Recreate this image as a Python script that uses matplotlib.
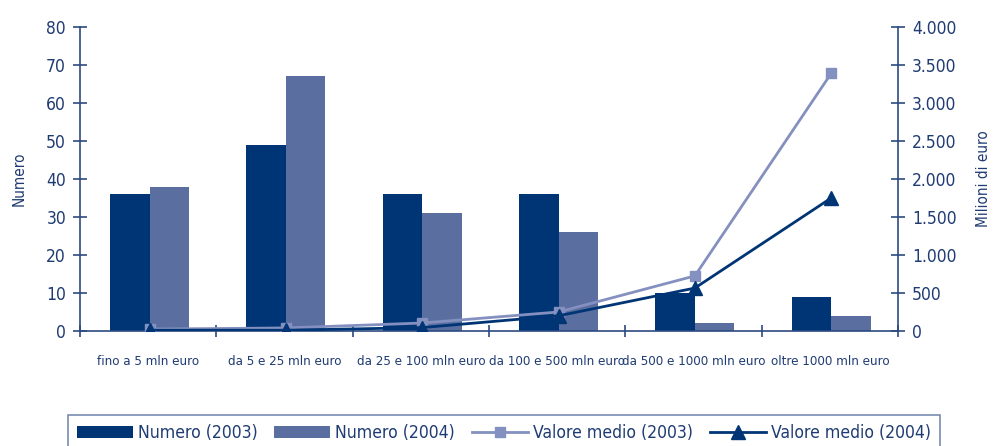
import matplotlib
matplotlib.use("Agg")
import matplotlib.pyplot as plt
import numpy as np
from matplotlib import font_manager

categories = ["fino a 5 mln euro", "da 5 e 25 mln euro", "da 25 e 100 mln euro",
              "da 100 e 500 mln euro", "da 500 e 1000 mln euro", "oltre 1000 mln euro"]
numero_2003 = [36, 49, 36, 36, 10, 9]
numero_2004 = [38, 67, 31, 26, 2, 4]
valore_2003 = [25, 40, 105, 250, 725, 3390]
valore_2004 = [10, 10, 45, 200, 565, 1750]
left_ticks = [0, 10, 20, 30, 40, 50, 60, 70, 80]
right_ticks = [0, 500, 1000, 1500, 2000, 2500, 3000, 3500, 4000]
right_labels = ["0", "500", "1.000", "1.500", "2.000", "2.500", "3.000", "3.500", "4.000"]

has_cond = any(f.name == "DejaVu Sans" and f.stretch != "normal" and str(f.stretch) != "400"
               for f in font_manager.fontManager.ttflist)
plt.rcParams['font.family'] = ['DejaVu Sans']
if has_cond:
    plt.rcParams['font.stretch'] = 'condensed'
    scale = 1.0
else:
    scale = 0.88

txt = "#1f3b73"
axc = "#2c4a80"
c03 = "#003575"
c04 = "#5a6fa0"
cl03 = "#8490c0"

fig = plt.figure(figsize=(9.93, 4.46), dpi=100)
ax = fig.add_axes([80/993, 1-331/446, 818/993, 304/446])
ax2 = ax.twinx()

x = np.arange(len(categories))
w = 0.29
ax.bar(x - w/2 + 0.01, numero_2003, w, color=c03, label="Numero (2003)", zorder=2)
ax.bar(x + w/2 + 0.01, numero_2004, w, color=c04, label="Numero (2004)", zorder=2)
ax.set_xlim(-0.5, len(categories) - 0.5)
ax.set_ylim(0, 80)
ax.set_yticks(left_ticks)
ax.set_xticks(x)
ax.set_xticklabels(categories, fontsize=9.5 * scale, color=txt)
ax.set_xticks(np.arange(-0.5, len(categories)), minor=True)
ax.tick_params(axis='x', which='major', length=0, pad=17)
ax.tick_params(axis='x', which='minor', length=8, direction='inout', color=axc, width=1.2)
ax.tick_params(axis='y', length=10, direction='inout', color=axc, width=1.2,
               labelsize=12.5 * scale, labelcolor=txt, pad=5)
ax.set_ylabel("Numero", fontsize=11 * scale, color=txt, labelpad=14)

ax2.plot(x + 0.01, valore_2003, color=cl03, lw=2, marker='s', ms=7, label="Valore medio (2003)", zorder=3)
ax2.plot(x + 0.01, valore_2004, color=c03, lw=2, marker='^', ms=10, label="Valore medio (2004)", zorder=4)
ax2.set_ylim(0, 4000)
ax2.set_yticks(right_ticks)
ax2.set_yticklabels(right_labels)
ax2.tick_params(axis='y', length=10, direction='inout', color=axc, width=1.2,
                labelsize=12.5 * scale, labelcolor=txt, pad=5)
ax2.set_ylabel("Milioni di euro", fontsize=11 * scale, color=txt, rotation=90, labelpad=14)

for a in (ax, ax2):
    a.spines["top"].set_visible(False)
    for s in ("left", "right", "bottom"):
        a.spines[s].set_color(axc)
        a.spines[s].set_linewidth(1.2)
ax2.spines["left"].set_visible(False)
ax2.spines["bottom"].set_visible(False)
ax.spines["right"].set_visible(False)

h1, l1 = ax.get_legend_handles_labels()
h2, l2 = ax2.get_legend_handles_labels()
leg = fig.legend(h1 + h2, l1 + l2, loc="lower left", bbox_to_anchor=(59/993, -0.03),
                 ncol=4, frameon=True, fancybox=False, fontsize=12.6 * scale, handlelength=3.2,
                 handletextpad=0.3, columnspacing=0.95, borderpad=0.5)
leg.get_frame().set_edgecolor("#5a6fa0")
leg.get_frame().set_linewidth(1.2)
for t in leg.get_texts():
    t.set_color(txt)

fig.savefig("out.png", dpi=100)
